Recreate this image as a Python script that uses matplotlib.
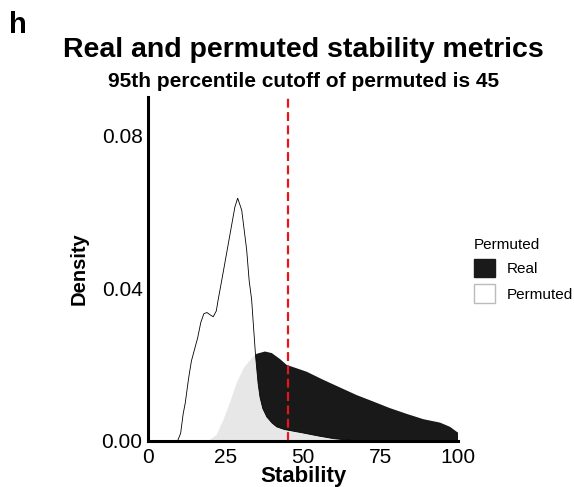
import matplotlib.pyplot as plt
from matplotlib.patches import Patch

plt.rcParams['font.family'] = ['Liberation Sans', 'DejaVu Sans']

# ── Data ────────────────────────────────────────────────────────────────────
perm_x = [0, 9.5, 10.5, 11.3, 12, 13, 13.5, 14, 15, 16, 17, 18, 19, 20, 21,
          22, 22.6, 24.2, 26.5, 28, 28.9, 30.2, 31.8, 32.6, 33.4, 34, 34.7,
          35.5, 36.1, 37, 38.3, 40, 41.5, 44, 46, 50, 55, 60, 65, 70, 100]
perm_density = [0, 0, 0.002, 0.007, 0.010, 0.016, 0.0186, 0.021, 0.024,
                0.027, 0.031, 0.0333, 0.0336, 0.033, 0.0325, 0.034, 0.0369,
                0.044, 0.0544, 0.0612, 0.0635, 0.0604, 0.050, 0.042, 0.037,
                0.030, 0.022, 0.015, 0.0115, 0.0085, 0.0063, 0.0047, 0.0037,
                0.003, 0.0027, 0.0021, 0.0013, 0.0006, 0.0002, 0, 0]

real_x = [0, 19.5, 22.1, 24.3, 26.4, 28.6, 30.8, 32.9, 35, 37.7, 39.9, 42.6,
          44.7, 48, 51.2, 56.5, 61.9, 67.3, 72.7, 78, 83.4, 88.8, 94.2, 97.4,
          99.6, 100]
real_density = [0, 0, 0.0016, 0.0055, 0.010, 0.0152, 0.019, 0.0212, 0.0228,
                0.0234, 0.023, 0.0214, 0.0199, 0.019, 0.0181, 0.016, 0.014,
                0.012, 0.0103, 0.0086, 0.0071, 0.0057, 0.0048, 0.0037, 0.0024,
                0.0022]

cutoff = 45
x_ticks = [0, 25, 50, 75, 100]
y_ticks = [0.00, 0.04, 0.08]

# ── Plot ────────────────────────────────────────────────────────────────────
fig = plt.figure(figsize=(5.74, 4.87), dpi=100)
ax = fig.add_axes([0.258, 0.0945, 0.54, 0.7065])

ax.fill_between(real_x, real_density, 0, facecolor='black', alpha=0.9,
                linewidth=0)
ax.fill_between(perm_x, perm_density, 0, facecolor='white', alpha=0.9,
                linewidth=0)
ax.plot(perm_x, perm_density, color='black', linewidth=0.6)
ax.axvline(cutoff, color='#e8161b', linestyle=(0, (4, 2)), linewidth=1.6)

ax.set_xlim(0, 100)
ax.set_ylim(0, 0.09)
ax.set_xticks(x_ticks)
ax.set_yticks(y_ticks)
ax.set_yticklabels([f'{v:.2f}' for v in y_ticks])
ax.tick_params(length=0, labelsize=15, colors='black')
ax.tick_params(axis='y', pad=4)
ax.tick_params(axis='x', pad=5)
for s in ['top', 'right']:
    ax.spines[s].set_visible(False)
for s in ['left', 'bottom']:
    ax.spines[s].set_linewidth(2.2)

ax.set_xlabel('Stability', fontsize=16, fontweight='bold', labelpad=-1)
ax.set_ylabel('Density', fontsize=14.5, fontweight='bold', labelpad=9)

fig.text(0.528, 0.883, 'Real and permuted stability metrics', ha='center',
         va='baseline', fontsize=20.5, fontweight='bold')
fig.text(0.528, 0.821, '95th percentile cutoff of permuted is 45', ha='center',
         va='baseline', fontsize=15, fontweight='bold')
fig.text(0.016, 0.932, 'h', fontsize=21, fontweight='bold', va='baseline')

handles = [Patch(facecolor='#1a1a1a', edgecolor='#1a1a1a', label='Real'),
           Patch(facecolor='white', edgecolor='#bbbbbb', label='Permuted')]
leg = fig.legend(handles=handles, title='Permuted', loc='upper left',
                 bbox_to_anchor=(0.802, 0.54), frameon=False, fontsize=11,
                 title_fontsize=11, handlelength=1.4, handleheight=1.5,
                 labelspacing=0.45, handletextpad=0.75, alignment='left')

plt.savefig('out.png', dpi=100)
